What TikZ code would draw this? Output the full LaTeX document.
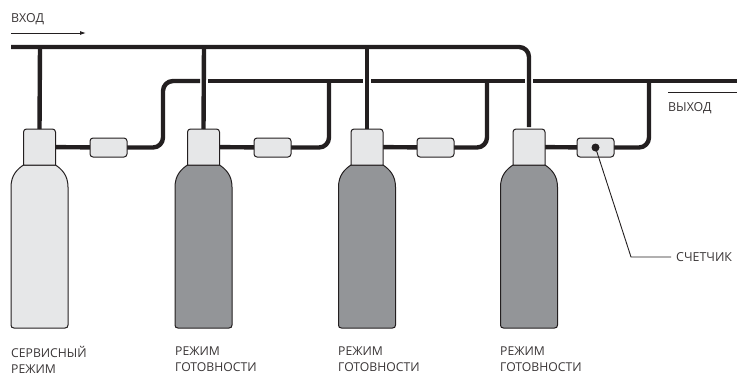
\documentclass[tikz,border=0pt]{standalone}
\usepackage{fontspec}
\setmainfont{Open Sans}
\usetikzlibrary{arrows.meta,backgrounds}
\definecolor{ink}{HTML}{231F20}
\definecolor{pale}{HTML}{E6E7E8}
\definecolor{steel}{HTML}{939598}
\tikzset{
  pipe/.style={draw=ink,line width=4.4pt,line join=round},
  bendpipe/.style={pipe,rounded corners=10pt},
  thin line/.style={draw=ink,line width=0.9pt},
  headfrm/.style={minimum width=32pt,minimum height=36pt,inner sep=0pt,outer sep=0pt},
  headline/.style={draw=ink,fill=pale,line width=1pt},
  valve/.style={draw=ink,fill=pale,line width=1pt,rounded corners=3pt,minimum width=37pt,minimum height=19pt,inner sep=0pt},
  caption/.style={anchor=west,inner sep=0pt,font=\fontsize{12.4pt}{15pt}\selectfont,text=ink!90},
  twoline/.style={anchor=north west,inner sep=0pt,align=left,font=\fontsize{12.2pt}{15.6pt}\selectfont,text=ink!90}
}
\newcommand{\bottle}[2]{%
  \draw[draw=ink,fill=#2,line width=1pt]
    (#1-16,165) -- (#1+16,165)
    .. controls (#1+22,169) and (#1+28.5,175) .. (#1+28.5,187)
    -- (#1+28.5,325) .. controls (#1+28.5,327) and (#1+27.5,328) .. (#1+25.5,328)
    -- (#1-25.5,328) .. controls (#1-27.5,328) and (#1-28.5,327) .. (#1-28.5,325)
    -- (#1-28.5,187)
    .. controls (#1-28.5,175) and (#1-22,169) .. (#1-16,165) -- cycle;}
\newcommand{\headbox}[2]{%
  \node[headfrm] (#1) at (#2,147) {};
  \draw[headline] (#1.south west) [rounded corners=3pt] -- (#1.north west) -- (#1.north east) [sharp corners] -- (#1.south east) -- cycle;}
\begin{document}
\begin{tikzpicture}[x=1pt,y=-1pt]
\useasboundingbox (0,0) rectangle (737,376);
% named points
\coordinate (inL) at (11,47);
\coordinate (t1) at (40,47);
\coordinate (t2) at (204,47);
\coordinate (t3) at (367,47);
\coordinate (inC) at (529,47);
\coordinate (outE) at (737,81);
\coordinate (g2a) at (200,81);
\coordinate (g2b) at (208,81);
\coordinate (g3a) at (363,81);
\coordinate (g3b) at (371,81);
\coordinate (g4a) at (525,81);
\coordinate (g4b) at (533,81);
\coordinate (e1) at (163,147.5);
\coordinate (n1) at (163,81);
\coordinate (e2) at (329,147.5);
\coordinate (j2) at (329,81);
\coordinate (e3) at (487,147.5);
\coordinate (j3) at (487,81);
\coordinate (e4) at (649,147.5);
\coordinate (j4) at (649,81);
\coordinate (arrA) at (11,33);
\coordinate (arrB) at (86,33);
\coordinate (outA) at (668,92);
\coordinate (outB) at (737,92);
% bottles
\bottle{39.5}{pale}
\bottle{203.5}{steel}
\bottle{367}{steel}
\bottle{529}{steel}
% heads and valves
\headbox{h1}{39.5}
\headbox{h2}{203.5}
\headbox{h3}{367}
\headbox{h4}{529}
\node[valve] (v1) at (108.5,147.5) {};
\node[valve] (v2) at (272.5,147.5) {};
\node[valve] (v3) at (435.5,147.5) {};
\node[valve] (v4) at (595.5,147.5) {};
\begin{scope}[on background layer]
% outlet header with gaps
\draw[pipe] (h1.center) -- (v1.center);
\draw[pipe] (h2.center) -- (v2.center);
\draw[pipe] (h3.center) -- (v3.center);
\draw[pipe] (h4.center) -- (v4.center);
\draw[bendpipe] (v1.center) -- (e1) -- (n1) -- (g2a);
\draw[pipe] (g2b) -- (g3a);
\draw[pipe] (g3b) -- (g4a);
\draw[pipe] (g4b) -- (outE);
\draw[bendpipe] (v2.center) -- (e2) -- (j2);
\draw[bendpipe] (v3.center) -- (e3) -- (j3);
\draw[bendpipe] (v4.center) -- (e4) -- (j4);
\end{scope}
% inlet header
\draw[bendpipe] (inL) -- (inC) -- ([yshift=2pt]h4.north);
\draw[pipe] (t1) -- (h1.north);
\draw[pipe] (t2) -- (h2.north);
\draw[pipe] (t3) -- (h3.north);
% meter
\fill[ink] (v4.center) circle (4pt);
\coordinate (lk) at (631,257);
\node[caption] (meter) at (676,257) {СЧЕТЧИК};
\draw[thin line] (v4.center) -- (lk) -- ([xshift=-5pt]meter.west);
% flow marks
\draw[thin line,-{Latex[length=6pt,width=4pt]}] (arrA) -- (arrB);
\draw[thin line] (outA) -- (outB);
\node[caption] (lin) at (11,19) {ВХОД};
\node[caption] (lout) at (668,108) {ВЫХОД};
\node[twoline] (c1) at (11,346.5) {СЕРВИСНЫЙ\\РЕЖИМ};
\node[twoline] (c2) at (175,346.5) {РЕЖИМ\\ГОТОВНОСТИ};
\node[twoline] (c3) at (338,346.5) {РЕЖИМ\\ГОТОВНОСТИ};
\node[twoline] (c4) at (500,346.5) {РЕЖИМ\\ГОТОВНОСТИ};
\end{tikzpicture}
\end{document}
